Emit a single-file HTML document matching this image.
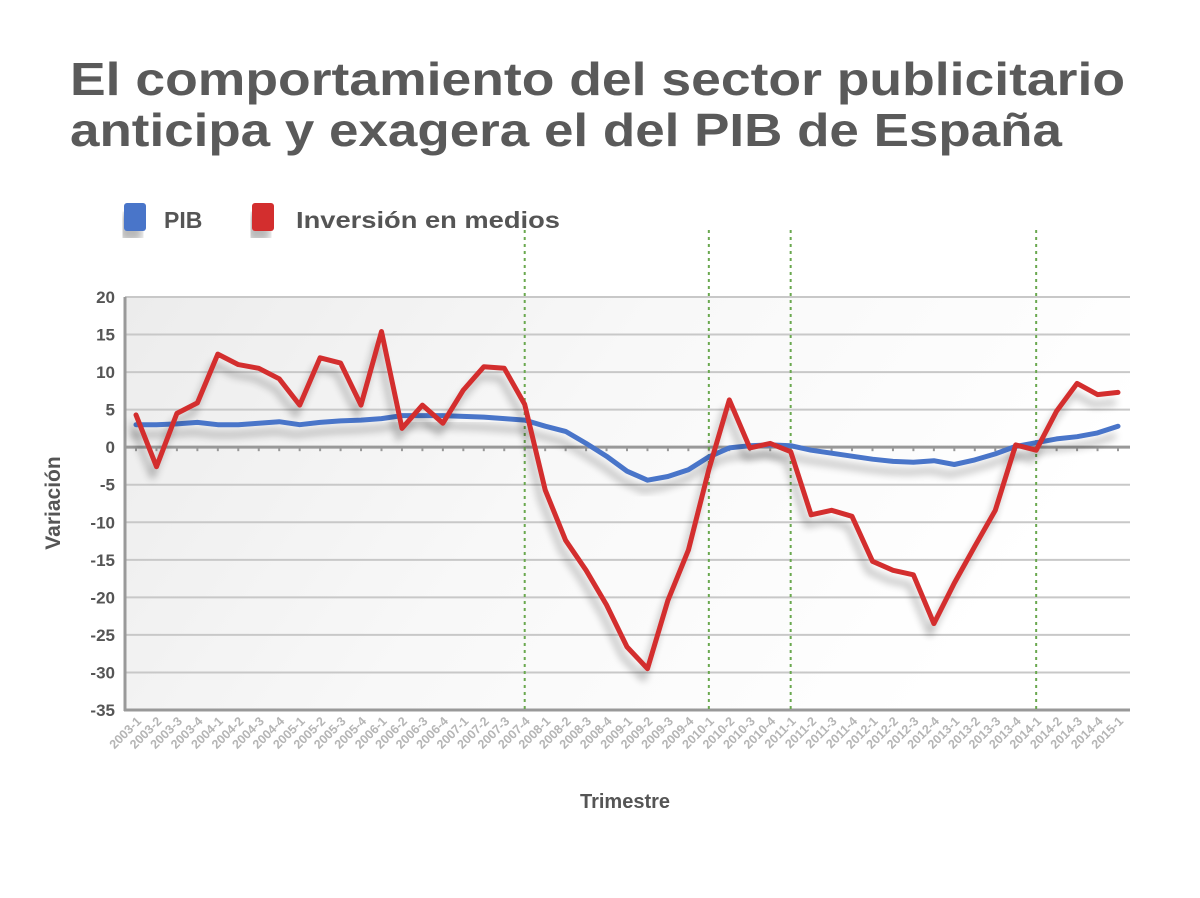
<!DOCTYPE html>
<html><head><meta charset="utf-8"><style>
html,body{margin:0;padding:0;background:#fff;}
svg{display:block;font-family:"Liberation Sans",sans-serif;}
</style></head><body>
<svg id="chart" width="1200" height="898" viewBox="0 0 1200 898">
<defs>
<linearGradient id="bg" x1="0" y1="0" x2="1" y2="0.3">
<stop offset="0" stop-color="#ececec"/><stop offset="0.5" stop-color="#f8f8f8"/><stop offset="1" stop-color="#ffffff"/>
</linearGradient>
<filter id="sh" x="-5%" y="-5%" width="110%" height="130%"><feGaussianBlur in="SourceAlpha" stdDeviation="4"/><feOffset dx="-4" dy="10"/><feComponentTransfer><feFuncA type="linear" slope="0.28"/></feComponentTransfer><feMerge><feMergeNode/><feMergeNode in="SourceGraphic"/></feMerge></filter>
</defs>
<text x="70" y="95" font-size="46" font-weight="bold" fill="#5a5a5a" textLength="1055" lengthAdjust="spacingAndGlyphs">El comportamiento del sector publicitario</text>
<text x="70" y="146" font-size="46" font-weight="bold" fill="#5a5a5a" textLength="992" lengthAdjust="spacingAndGlyphs">anticipa y exagera el del PIB de España</text>
<g>
<rect x="124" y="203" width="22" height="28" rx="3" fill="#4a74c9" filter="url(#sh)"/>
<text x="164" y="228" font-size="23" font-weight="bold" fill="#555">PIB</text>
<rect x="252" y="203" width="22" height="28" rx="3" fill="#d32f2f" filter="url(#sh)"/>
<text x="296" y="228" font-size="23" font-weight="bold" fill="#555" textLength="264" lengthAdjust="spacingAndGlyphs">Inversión en medios</text>
</g>
<rect x="125" y="297" width="1005" height="413" fill="url(#bg)"/>
<g id="grid"></g><g id="vlines"></g><g id="series"></g><g id="xlabels"></g>
<text transform="translate(60,503) rotate(-90)" text-anchor="middle" font-size="21" font-weight="bold" fill="#555">Variación</text>
<text x="625" y="808" text-anchor="middle" font-size="20" font-weight="bold" fill="#555">Trimestre</text>
</svg>
<script>
const categories=[];for(let y=2003;y<=2015;y++)for(let q=1;q<=4;q++){if(y===2015&&q>1)break;categories.push(y+'-'+q);}
const pib=[3.0,3.0,3.1,3.3,3.0,3.0,3.2,3.4,3.0,3.3,3.5,3.6,3.8,4.2,4.2,4.2,4.1,4.0,3.8,3.6,2.8,2.1,0.5,-1.2,-3.2,-4.4,-3.9,-3.0,-1.3,-0.1,0.2,0.3,0.2,-0.4,-0.8,-1.2,-1.6,-1.9,-2.0,-1.8,-2.3,-1.7,-0.9,0.1,0.6,1.1,1.4,1.9,2.8];
const inversion=[4.3,-2.6,4.5,5.9,12.4,11.0,10.5,9.1,5.6,11.9,11.2,5.6,15.4,2.5,5.6,3.2,7.6,10.7,10.5,5.7,-5.7,-12.4,-16.4,-21.0,-26.6,-29.5,-20.4,-13.7,-3.0,6.3,-0.1,0.5,-0.6,-9.0,-8.4,-9.2,-15.2,-16.4,-17.0,-23.5,-18.1,-13.2,-8.4,0.3,-0.4,4.8,8.5,7.0,7.3];
const yTicks=[20,15,10,5,0,-5,-10,-15,-20,-25,-30,-35];
const markers=['2007-4','2010-1','2011-1','2014-1'];
const NS='http://www.w3.org/2000/svg';
const x0=136,x1=1118,yTop=297,yBot=710,vMax=20,vMin=-35;
const xs=i=>x0+i*(x1-x0)/(categories.length-1);
const ys=v=>yTop+(vMax-v)*(yBot-yTop)/(vMax-vMin);
function mk(t,a,p){const e=document.createElementNS(NS,t);for(const k in a)e.setAttribute(k,a[k]);p.appendChild(e);return e;}
const grid=document.getElementById('grid');
yTicks.forEach(v=>{
const l=mk('line',{x1:125,x2:1130,y1:ys(v),y2:ys(v),stroke:v===0?'#999':'#c8c8c8','stroke-width':v===0?3:2},grid);


const t=mk('text',{x:115,y:ys(v)+6,'text-anchor':'end','font-size':17,'font-weight':'bold',fill:'#555'},grid);
t.textContent=v;


});
const ax=mk('line',{x1:125,x2:125,y1:297,y2:711,stroke:'#999','stroke-width':3},grid);


const bx=mk('line',{x1:124,x2:1130,y1:710,y2:710,stroke:'#999','stroke-width':3},grid);


categories.forEach((c,i)=>{
const tk=mk('line',{x1:xs(i),x2:xs(i),y1:ys(0),y2:ys(0)+4,stroke:'#999','stroke-width':2},grid);


const t=mk('text',{x:0,y:0,transform:`translate(${xs(i)+6},${722}) rotate(-45)`,'text-anchor':'end','font-size':12.5,'font-weight':'bold',fill:'#b5b5b5'},document.getElementById('xlabels'));
t.textContent=c;


});
markers.forEach(m=>{
const i=categories.indexOf(m);
const l=mk('line',{x1:xs(i),x2:xs(i),y1:230,y2:710,stroke:'#6aa84f','stroke-width':2,'stroke-dasharray':'3,4'},document.getElementById('vlines'));


});
function line(data,color,name){
const d=data.map((v,i)=>(i?'L':'M')+xs(i).toFixed(1)+','+ys(v).toFixed(1)).join(' ');
const p=mk('path',{d:d,fill:'none',stroke:color,'stroke-width':5,'stroke-linejoin':'round','stroke-linecap':'round',filter:'url(#sh)'},document.getElementById('series'));


}
line(pib,'#4a74c9','series-pib');
line(inversion,'#d32f2f','series-inversion');
</script>
</body></html>
